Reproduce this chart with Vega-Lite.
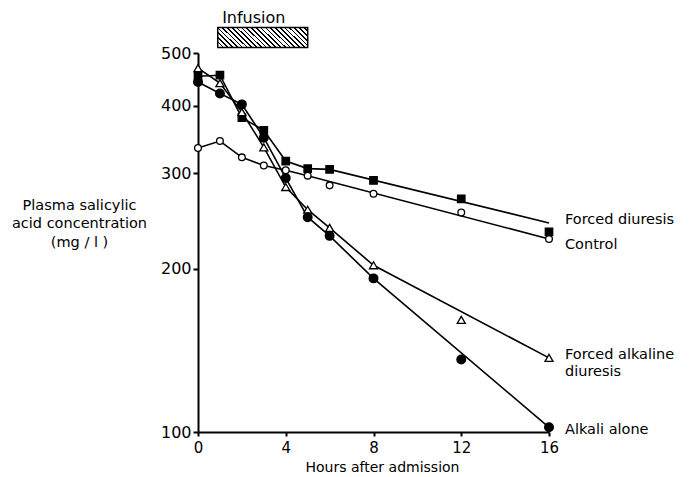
{
  "$schema": "https://vega.github.io/schema/vega-lite/v6.json",
  "width": 351,
  "height": 379,
  "autosize": {"type": "none"},
  "padding": {"left": 198, "top": 53, "right": 140, "bottom": 45},
  "background": "white",
  "config": {
    "view": {"stroke": null},
    "font": "DejaVu Sans",
    "axis": {
      "grid": false,
      "domainColor": "black",
      "tickColor": "black",
      "labelColor": "black",
      "titleColor": "black",
      "titleFontWeight": "normal",
      "labelFont": "DejaVu Sans",
      "titleFont": "DejaVu Sans",
      "domainWidth": 2,
      "tickWidth": 2
    }
  },
  "datasets": {
    "obs": [
      {"series": "Control", "hour": 0, "point": 334, "line": 334},
      {"series": "Control", "hour": 1, "point": 344, "line": 344},
      {"series": "Control", "hour": 2, "point": 321, "line": 321},
      {"series": "Control", "hour": 3, "point": 310, "line": 310},
      {"series": "Control", "hour": 4, "point": 304, "line": 304},
      {"series": "Control", "hour": 5, "point": 297, "line": 297},
      {"series": "Control", "hour": 6, "point": 285, "line": null},
      {"series": "Control", "hour": 8, "point": 275, "line": null},
      {"series": "Control", "hour": 12, "point": 254, "line": null},
      {"series": "Control", "hour": 16, "point": 227, "line": 227},
      {"series": "Forced diuresis", "hour": 0, "point": 453, "line": 453},
      {"series": "Forced diuresis", "hour": 1, "point": 455, "line": 455},
      {"series": "Forced diuresis", "hour": 2, "point": 380, "line": 380},
      {"series": "Forced diuresis", "hour": 3, "point": 360, "line": 360},
      {"series": "Forced diuresis", "hour": 4, "point": 316, "line": 316},
      {"series": "Forced diuresis", "hour": 5, "point": 306, "line": 306},
      {"series": "Forced diuresis", "hour": 6, "point": 305, "line": 305},
      {"series": "Forced diuresis", "hour": 8, "point": 291, "line": null},
      {"series": "Forced diuresis", "hour": 12, "point": 269, "line": null},
      {"series": "Forced diuresis", "hour": 16, "point": 234, "line": 243},
      {"series": "Forced alkaline diuresis", "hour": 0, "point": 469, "line": 469},
      {"series": "Forced alkaline diuresis", "hour": 1, "point": 440, "line": 440},
      {"series": "Forced alkaline diuresis", "hour": 2, "point": 389, "line": 389},
      {"series": "Forced alkaline diuresis", "hour": 3, "point": 335, "line": 335},
      {"series": "Forced alkaline diuresis", "hour": 4, "point": 283, "line": 283},
      {"series": "Forced alkaline diuresis", "hour": 5, "point": 257, "line": 257},
      {"series": "Forced alkaline diuresis", "hour": 6, "point": 238, "line": 238},
      {"series": "Forced alkaline diuresis", "hour": 8, "point": 203, "line": 203},
      {"series": "Forced alkaline diuresis", "hour": 12, "point": 161, "line": null},
      {"series": "Forced alkaline diuresis", "hour": 16, "point": 137, "line": 137},
      {"series": "Alkali alone", "hour": 0, "point": 442, "line": 442},
      {"series": "Alkali alone", "hour": 1, "point": 421, "line": 421},
      {"series": "Alkali alone", "hour": 2, "point": 402, "line": 402},
      {"series": "Alkali alone", "hour": 3, "point": 349, "line": 349},
      {"series": "Alkali alone", "hour": 4, "point": 294, "line": 294},
      {"series": "Alkali alone", "hour": 5, "point": 249, "line": 249},
      {"series": "Alkali alone", "hour": 6, "point": 230, "line": 230},
      {"series": "Alkali alone", "hour": 8, "point": 192, "line": 192},
      {"series": "Alkali alone", "hour": 12, "point": 136, "line": null},
      {"series": "Alkali alone", "hour": 16, "point": 102, "line": 102}
    ],
    "labels": [
      {"label": "Forced diuresis", "hour": 16, "value": 246},
      {"label": "Control", "hour": 16, "value": 221},
      {"label": "Forced alkaline\ndiuresis", "hour": 16, "value": 138.5},
      {"label": "Alkali alone", "hour": 16, "value": 101}
    ],
    "infusion": [
      {"label": "Infusion", "start": 0.9, "end": 5, "lo": 512, "hi": 557, "textHour": 1.1, "textValue": 581}
    ]
  },
  "layer": [
    {
      "data": {"name": "obs"},
      "transform": [{"filter": "datum.line != null"}],
      "mark": {"type": "line", "color": "black", "strokeWidth": 1.6},
      "encoding": {
        "x": {
          "field": "hour", "type": "quantitative",
          "scale": {"domain": [0, 16], "nice": false},
          "axis": {
            "values": [0, 4, 8, 12, 16],
            "tickSize": 4,
            "labelFontSize": 15,
            "labelPadding": 4,
            "labelFlush": false,
            "title": "Hours after admission",
            "titleFontSize": 14,
            "titleX": 184,
            "titleY": 35,
            "titleAlign": "center",
            "titleBaseline": "middle"
          }
        },
        "y": {
          "field": "line", "type": "quantitative",
          "scale": {"type": "log", "domain": [100, 500], "nice": false},
          "axis": {
            "values": [100, 200, 300, 400, 500],
            "format": "d",
            "tickSize": 5,
            "labelFontSize": 16,
            "labelPadding": 2,
            "labelFlush": false,
            "title": ["Plasma salicylic", "acid concentration", "(mg / l )"],
            "titleFontSize": 14.5,
            "titleLineHeight": 18.5,
            "titleAngle": 0,
            "titleAlign": "center",
            "titleBaseline": "top",
            "titleX": -119,
            "titleY": 145
          }
        },
        "detail": {"field": "series"},
        "order": {"field": "hour"}
      }
    },
    {
      "data": {"name": "infusion"},
      "mark": {
        "type": "rect",
        "stroke": "black",
        "strokeWidth": 1.5,
        "fill": {
          "gradient": "linear",
          "x1": 0, "y1": 1, "x2": 1.1658, "y2": 0.738,
          "stops": [
            {"offset": 0.0, "color": "black"}, {"offset": 0.0152, "color": "black"}, {"offset": 0.0152, "color": "white"}, {"offset": 0.0435, "color": "white"},
            {"offset": 0.0435, "color": "black"}, {"offset": 0.0587, "color": "black"}, {"offset": 0.0587, "color": "white"}, {"offset": 0.0870, "color": "white"},
            {"offset": 0.0870, "color": "black"}, {"offset": 0.1022, "color": "black"}, {"offset": 0.1022, "color": "white"}, {"offset": 0.1304, "color": "white"},
            {"offset": 0.1304, "color": "black"}, {"offset": 0.1456, "color": "black"}, {"offset": 0.1456, "color": "white"}, {"offset": 0.1739, "color": "white"},
            {"offset": 0.1739, "color": "black"}, {"offset": 0.1891, "color": "black"}, {"offset": 0.1891, "color": "white"}, {"offset": 0.2174, "color": "white"},
            {"offset": 0.2174, "color": "black"}, {"offset": 0.2326, "color": "black"}, {"offset": 0.2326, "color": "white"}, {"offset": 0.2609, "color": "white"},
            {"offset": 0.2609, "color": "black"}, {"offset": 0.2761, "color": "black"}, {"offset": 0.2761, "color": "white"}, {"offset": 0.3043, "color": "white"},
            {"offset": 0.3043, "color": "black"}, {"offset": 0.3195, "color": "black"}, {"offset": 0.3195, "color": "white"}, {"offset": 0.3478, "color": "white"},
            {"offset": 0.3478, "color": "black"}, {"offset": 0.3630, "color": "black"}, {"offset": 0.3630, "color": "white"}, {"offset": 0.3913, "color": "white"},
            {"offset": 0.3913, "color": "black"}, {"offset": 0.4065, "color": "black"}, {"offset": 0.4065, "color": "white"}, {"offset": 0.4348, "color": "white"},
            {"offset": 0.4348, "color": "black"}, {"offset": 0.4500, "color": "black"}, {"offset": 0.4500, "color": "white"}, {"offset": 0.4783, "color": "white"},
            {"offset": 0.4783, "color": "black"}, {"offset": 0.4935, "color": "black"}, {"offset": 0.4935, "color": "white"}, {"offset": 0.5217, "color": "white"},
            {"offset": 0.5217, "color": "black"}, {"offset": 0.5369, "color": "black"}, {"offset": 0.5369, "color": "white"}, {"offset": 0.5652, "color": "white"},
            {"offset": 0.5652, "color": "black"}, {"offset": 0.5804, "color": "black"}, {"offset": 0.5804, "color": "white"}, {"offset": 0.6087, "color": "white"},
            {"offset": 0.6087, "color": "black"}, {"offset": 0.6239, "color": "black"}, {"offset": 0.6239, "color": "white"}, {"offset": 0.6522, "color": "white"},
            {"offset": 0.6522, "color": "black"}, {"offset": 0.6674, "color": "black"}, {"offset": 0.6674, "color": "white"}, {"offset": 0.6957, "color": "white"},
            {"offset": 0.6957, "color": "black"}, {"offset": 0.7109, "color": "black"}, {"offset": 0.7109, "color": "white"}, {"offset": 0.7391, "color": "white"},
            {"offset": 0.7391, "color": "black"}, {"offset": 0.7543, "color": "black"}, {"offset": 0.7543, "color": "white"}, {"offset": 0.7826, "color": "white"},
            {"offset": 0.7826, "color": "black"}, {"offset": 0.7978, "color": "black"}, {"offset": 0.7978, "color": "white"}, {"offset": 0.8261, "color": "white"},
            {"offset": 0.8261, "color": "black"}, {"offset": 0.8413, "color": "black"}, {"offset": 0.8413, "color": "white"}, {"offset": 0.8696, "color": "white"},
            {"offset": 0.8696, "color": "black"}, {"offset": 0.8848, "color": "black"}, {"offset": 0.8848, "color": "white"}, {"offset": 0.9130, "color": "white"},
            {"offset": 0.9130, "color": "black"}, {"offset": 0.9282, "color": "black"}, {"offset": 0.9282, "color": "white"}, {"offset": 0.9565, "color": "white"},
            {"offset": 0.9565, "color": "black"}, {"offset": 0.9717, "color": "black"}, {"offset": 0.9717, "color": "white"}, {"offset": 1.0, "color": "white"}
          ]
        }
      },
      "encoding": {
        "x": {"field": "start", "type": "quantitative", "scale": {"domain": [0, 16], "nice": false}},
        "x2": {"field": "end"},
        "y": {"field": "lo", "type": "quantitative", "scale": {"type": "log", "domain": [100, 500], "nice": false}},
        "y2": {"field": "hi"}
      }
    },
    {
      "data": {"name": "infusion"},
      "mark": {"type": "text", "align": "left", "baseline": "middle", "fontSize": 16, "color": "black"},
      "encoding": {
        "x": {"field": "textHour", "type": "quantitative", "scale": {"domain": [0, 16], "nice": false}},
        "y": {"field": "textValue", "type": "quantitative", "scale": {"type": "log", "domain": [100, 500], "nice": false}},
        "text": {"field": "label"}
      }
    },
    {
      "data": {"name": "obs"},
      "mark": {"type": "point", "filled": true, "stroke": "black", "strokeWidth": 1.3, "opacity": 1},
      "encoding": {
        "x": {"field": "hour", "type": "quantitative", "scale": {"domain": [0, 16], "nice": false}},
        "y": {"field": "point", "type": "quantitative", "scale": {"type": "log", "domain": [100, 500], "nice": false}},
        "shape": {
          "field": "series", "type": "nominal",
          "scale": {"domain": ["Control", "Forced diuresis", "Forced alkaline diuresis", "Alkali alone"], "range": ["circle", "square", "triangle-up", "circle"]},
          "legend": null
        },
        "fill": {
          "field": "series", "type": "nominal",
          "scale": {"domain": ["Control", "Forced diuresis", "Forced alkaline diuresis", "Alkali alone"], "range": ["white", "black", "white", "black"]},
          "legend": null
        },
        "size": {
          "field": "series", "type": "nominal",
          "scale": {"domain": ["Control", "Forced diuresis", "Forced alkaline diuresis", "Alkali alone"], "range": [45, 75, 60, 38]},
          "legend": null
        }
      }
    },
    {
      "data": {"name": "labels"},
      "mark": {"type": "text", "align": "left", "baseline": "middle", "dx": 16, "fontSize": 14.5, "lineHeight": 16.5, "lineBreak": "\n", "color": "black"},
      "encoding": {
        "x": {"field": "hour", "type": "quantitative", "scale": {"domain": [0, 16], "nice": false}},
        "y": {"field": "value", "type": "quantitative", "scale": {"type": "log", "domain": [100, 500], "nice": false}},
        "text": {"field": "label"}
      }
    }
  ]
}
